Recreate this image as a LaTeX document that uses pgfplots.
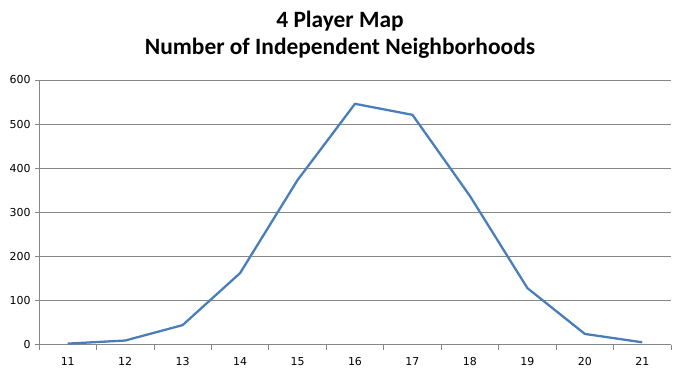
\documentclass[border=0pt]{standalone}
\usepackage{fontspec}
\setmainfont{Carlito}
\newfontfamily\tickfont{DejaVu Sans}
\usepackage{pgfplots}
\pgfplotsset{compat=1.18}
\definecolor{lineblue}{HTML}{4A7EBB}
\definecolor{gridgray}{HTML}{868686}
\begin{document}
\begin{tikzpicture}
\begin{axis}[
  at={(0,0)}, anchor=south west,
  scale only axis,
  width=632bp, height=264.5bp,
  xmin=10.5, xmax=21.5,
  ymin=0, ymax=600,
  axis x line=bottom, axis y line=left,
  axis line style={-, gridgray, line width=0.8pt},
  xtick={11,12,13,14,15,16,17,18,19,20,21},
  minor xtick={10.5,11.5,12.5,13.5,14.5,15.5,16.5,17.5,18.5,19.5,20.5,21.5},
  ytick={0,100,200,300,400,500,600},
  ymajorgrids,
  major grid style={gridgray, line width=0.8pt},
  tick style={gridgray, line width=0.8pt},
  major x tick style={draw=none},
  tick align=outside,
  major tick length=4bp, minor tick length=5bp,
  ticklabel style={font=\tickfont\fontsize{11}{13}\selectfont, text=black},
  yticklabel style={xshift=-1bp},
  xticklabel style={yshift=-5bp},
  /pgf/number format/assume math mode=true,
  clip=false,
]
\addplot[lineblue, line width=2.3pt, line join=round] coordinates {
(11,2) (12,9) (13,44) (14,162) (15,373) (16,546) (17,521) (18,337) (19,128) (20,24) (21,5)
};
\end{axis}
\node[font=\bfseries\fontsize{23.5}{27}\selectfont, anchor=base] at (301bp,316.5bp) {4 Player Map};
\node[font=\bfseries\fontsize{23.5}{27}\selectfont, anchor=base] at (301bp,289.5bp) {Number of Independent Neighborhoods};
\path[use as bounding box] (-39bp,-31.5bp) rectangle (638bp,344.5bp);
\end{tikzpicture}
\end{document}
